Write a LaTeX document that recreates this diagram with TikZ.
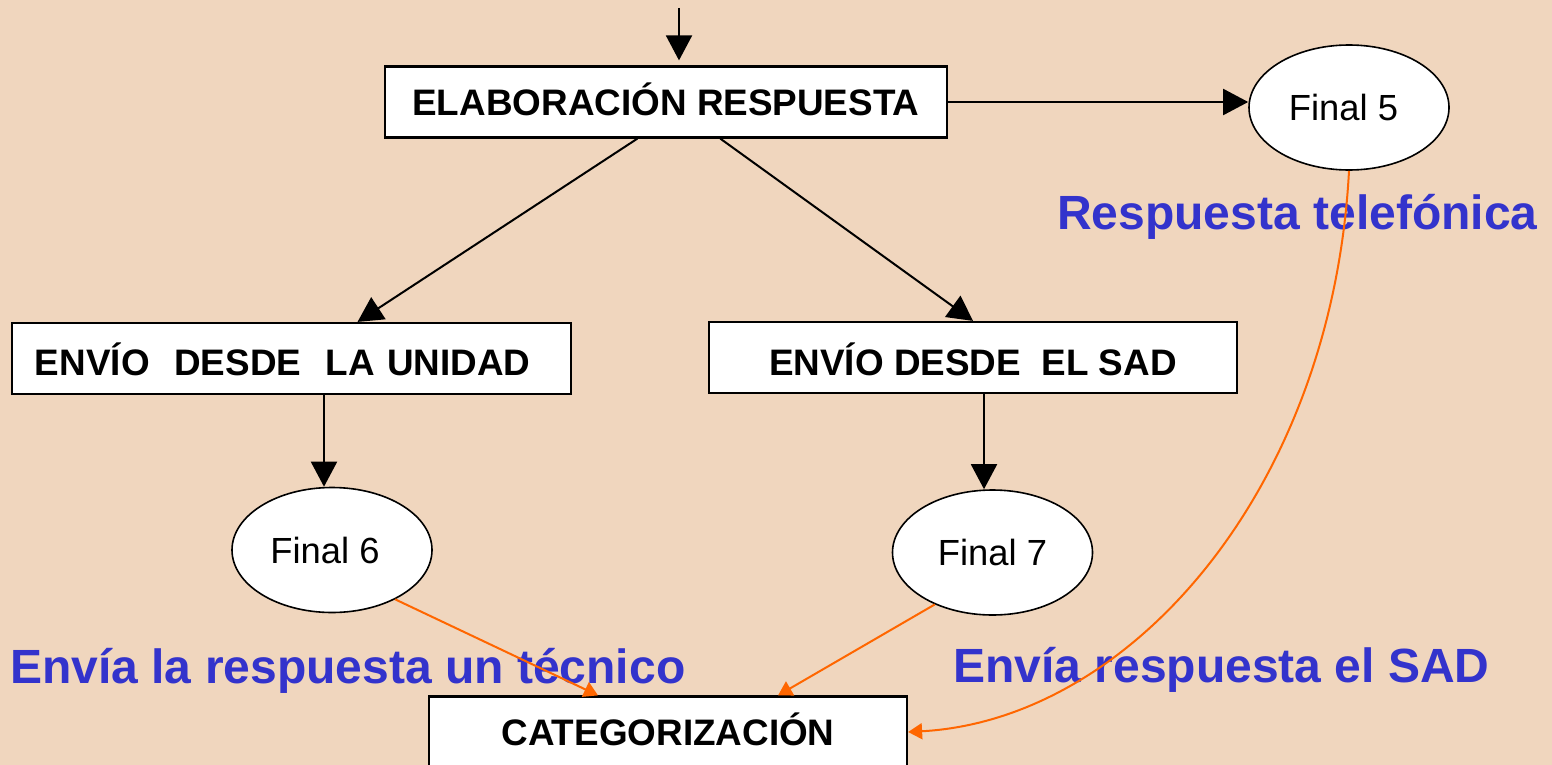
\documentclass[tikz,border=0pt]{standalone}
\usepackage{fontspec}
\setmainfont{Liberation Sans}
\usetikzlibrary{shapes.geometric,arrows.meta,calc}
\definecolor{bgc}{HTML}{F0D6BE}
\definecolor{blu}{RGB}{51,51,204}
\definecolor{orgc}{HTML}{FF6600}
\begin{document}
\begin{tikzpicture}[x=1bp,y=-1bp,
  box/.style={draw=black, line width=2.2bp, fill=white, minimum height=71bp, inner sep=0pt,
    font=\fontsize{37}{40}\selectfont\bfseries, text height=26.5bp, text depth=0pt},
  ell/.style={ellipse, draw=black, line width=1.6bp, fill=white, minimum width=200bp,
    minimum height=125bp, inner sep=0pt, font=\fontsize{36.5}{40}\selectfont,
    text height=26bp, text depth=0pt},
  blk/.style={draw=black, line width=2bp, -{Triangle[length=25bp,width=26bp]}},
  orgarrow/.style={draw=orgc, line width=2bp, -{Triangle[length=14bp,width=16bp]}},
  lbl/.style={text=blu, font=\fontsize{48.2}{50}\selectfont\bfseries, inner sep=0pt, anchor=base west}]
\useasboundingbox (0,0) rectangle (1552,765);
\fill[bgc] (0,0) rectangle (1552,765);
\clip (0,0) rectangle (1552,765);

% labels (under the connectors)
\node[lbl] (t5) at (1057,229) {Respuesta telefónica};
\node[lbl] (t6) at (10,683) {Envía la respuesta un técnico};
\node[lbl] (t7) at (953,682) {Envía respuesta el SAD};

% boxes
\node[box, minimum width=562bp] (elab) at (666,102) {ELABORACIÓN RESPUESTA};
\node[box, minimum width=559bp, text width=513bp, align=left, text height=34.5bp] (unidad) at (291.5,358.5) {ENVÍO\ \ DESDE\ \ LA UNIDAD};
\node[box, minimum width=528bp, text height=35bp] (sad) at (973,357.5) {ENVÍO DESDE\ \ EL SAD};
\node[box, minimum width=478bp] (cat) at (668,732) {CATEGORIZACIÓN};

% ellipses
\node[ell] (final5) at (1349,107.5) {Final 5\hspace*{11bp}};
\node[ell] (final6) at (332,550) {Final 6\hspace*{14bp}};
\node[ell] (final7) at (992.5,552.5) {Final 7};

% black connectors
\coordinate (top) at (679,8);
\draw[blk, shorten >=5bp] (top) -- (top |- elab.north);
\draw[blk] (elab.east) -- (elab.east -| final5.west);
\draw[blk] (elab.232) -- (unidad.29);
\draw[blk] (elab.326) -- (sad.north);
\draw[blk] ($(unidad.south)+(32.5,0)$) coordinate (u1) -- (u1 |- final6.north);
\draw[blk] ($(sad.south)+(11,0)$) coordinate (s1) -- (s1 |- final7.north);

% orange connectors
\draw[orgarrow] (final6.-38) -- ($(cat.north)+(-70,0)$);
\draw[orgarrow] (final7.222) -- ($(cat.north)+(110,0)$);
\draw[orgarrow] (final5.south) .. controls (1332,490) and (1130,720) .. (cat.east);
\end{tikzpicture}
\end{document}
